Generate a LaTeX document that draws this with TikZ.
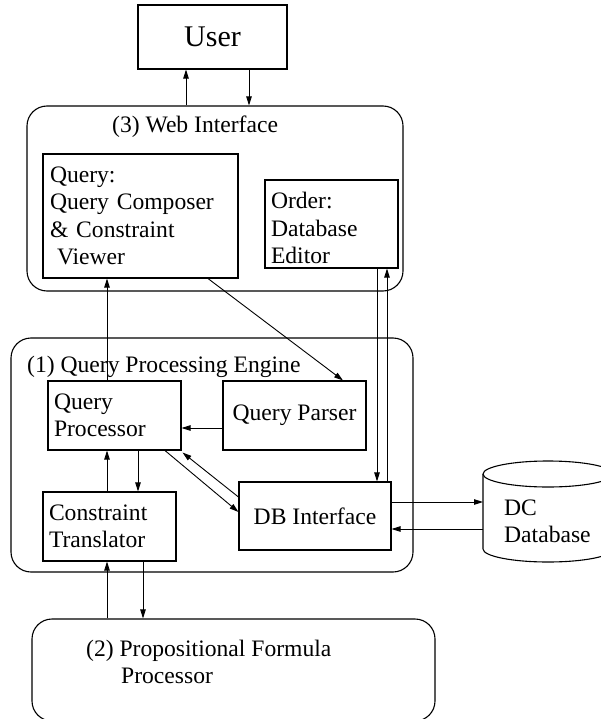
\documentclass[tikz,border=0pt]{standalone}
\usepackage{fontspec}
\setmainfont{Liberation Serif}
\usetikzlibrary{positioning, calc, arrows.meta}

\begin{document}
\begin{tikzpicture}[x=1pt, y=-1pt,
    box/.style={draw, line width=1.1pt, inner sep=0pt, font=\fontsize{23.6}{27.3}\selectfont},
    lbox/.style={box, align=left, inner xsep=6pt, text width=#1},
    rbox/.style={draw, line width=1.1pt, rounded corners=20pt, inner sep=0pt},
    titletext/.style={inner sep=0pt, font=\fontsize{23.6}{27.3}\selectfont},
    arr/.style={line width=0.9pt, -{Triangle[length=9pt,width=5.5pt]}}]

        \useasboundingbox (0,0) rectangle (601,719);
        \clip (0,0) rectangle (601,719);

        % 1. User on top
        \node[box, minimum width=149pt, minimum height=64pt, font=\fontsize{30}{36}\selectfont] (user) at (212.5,37) {User};

        % 2. (3) Web Interface with its two parts
        \node[rbox, minimum width=376pt, minimum height=185pt] (web) at (215,198.5) {};
        \node[titletext, anchor=base west] (webtitle) at (112,133) {(3) Web Interface};
        \node[lbox=181pt, inner xsep=7pt, minimum height=124pt] (query) at (140.5,216)
            {Query:\\Query Composer\\\& Constraint\\\hspace*{7pt}Viewer};
        \node[lbox=121pt, minimum height=88pt, text height=24.6pt] (order) at (331.5,224) {Order:\\Database\\Editor};

        % 3. (1) Query Processing Engine
        \node[rbox, minimum width=402pt, minimum height=234pt] (qpe) at (212,455) {};
        \node[titletext, anchor=base west] (qpetitle) at (27,372) {(1) Query Processing Engine};
        \node[lbox=121pt, minimum height=69pt] (qp) at (114.5,415.5) {Query\\Processor};
        \node[box, minimum width=143pt, minimum height=69pt] (parser) at (294.5,415.5) {Query Parser};
        \node[lbox=121pt, minimum height=69pt] (ct) at (109.5,526.5) {Constraint\\Translator};
        \node[box, minimum width=152pt, minimum height=68pt] (db) at (315,516) {DB Interface};

        % 4. (2) Propositional Formula Processor at the bottom (cut by the lower edge)
        \node[rbox, minimum width=403pt, minimum height=102pt] (pfp) at (233.5,670) {};
        \node[titletext, align=left, anchor=west] (pfptitle) at (86,662)
            {(2) Propositional Formula\\\hspace*{35pt}Processor};

        % 5. DC Database cylinder (cut by the right edge)
        \draw[line width=1.1pt] (548,474) ellipse [x radius=65, y radius=13];
        \draw[line width=1.1pt] (483,474) -- (483,549)
            arc[start angle=180, end angle=0, x radius=65, y radius=13] -- (613,474);
        \coordinate (dcwest) at (483,516);
        \node[titletext, align=left, anchor=west] (dctext) at (504,521) {DC\\Database};

        % 6. Connectors
        \draw[arr] ([xshift=-29pt]web.north) -- ([xshift=-26.5pt]user.south);
        \draw[arr] ([xshift=36.5pt]user.south) -- ([xshift=34pt]web.north);
        \draw[arr] ([xshift=-7.5pt]qp.north) -- ([xshift=-33.5pt]query.south);
        \draw[arr] ([xshift=67.5pt]query.south) -- ([xshift=48.5pt]parser.north);
        \draw[arr] ([yshift=-12.5pt]parser.west) -- ([yshift=-12.5pt]qp.east);
        \draw[arr] ([xshift=50.5pt]qp.south) -- ([yshift=4pt]db.west);
        \draw[arr] ([yshift=19pt]db.west) -- ([xshift=1pt,yshift=-2pt]qp.south east);
        \draw[arr] ([xshift=-2.5pt]ct.north) -- ([xshift=-7.5pt]qp.south);
        \draw[arr] ([xshift=23.5pt]qp.south) -- ([xshift=28.5pt]ct.north);
        \draw[arr] ([xshift=-126.5pt]pfp.north) -- ([xshift=-2.5pt]ct.south);
        \draw[arr] ([xshift=33.5pt]ct.south) -- ([xshift=-90.5pt]pfp.north);
        \draw[arr] ([xshift=45.5pt]order.south) -- ([xshift=62pt]db.north);
        \draw[arr] ([xshift=72pt]db.north) -- ([xshift=55.5pt]order.south);
        \draw[arr] ([yshift=14pt]db.east) -- ([yshift=14pt]dcwest);
        \draw[arr] ([yshift=-13pt]dcwest) -- ([yshift=-13pt]db.east);

    \end{tikzpicture}
\end{document}
